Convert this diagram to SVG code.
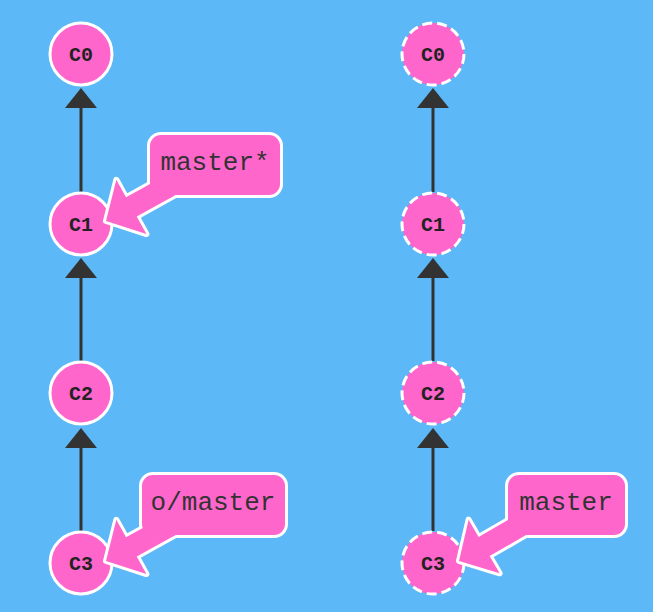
<svg xmlns="http://www.w3.org/2000/svg" width="653" height="612" viewBox="0 0 653 612">
<style>
.bg{fill:#5cb8f6}
.commit{fill:#ff66cc;stroke:#fff;stroke-width:3}
.dashed{stroke-dasharray:10 5}
.clabel{font-family:"Liberation Mono","DejaVu Sans Mono",monospace;font-weight:bold;font-size:20px;fill:#222;text-anchor:middle}
.edge{stroke:#333;stroke-width:3;fill:none}
.head{fill:#333}
.out{fill:none;stroke:#fff;stroke-width:6;stroke-linejoin:round}
.pink{fill:#ff66cc}
.btext{font-family:"Liberation Mono","Courier New",monospace;font-size:26px;fill:#333;text-anchor:middle}
</style>
<defs>
<polygon id="tag" points="0,0 29,-31 29,-11 85,-11 85,11 29,11 29,31"/>
</defs>
<rect class="bg" x="0" y="0" width="653" height="612"/>

<g id="connectors">
<line class="edge" x1="81" y1="108" x2="81" y2="192"/>
<polygon class="head" points="81,88 97,108 65,108"/>
<line class="edge" x1="81" y1="278" x2="81" y2="361"/>
<polygon class="head" points="81,258 97,278 65,278"/>
<line class="edge" x1="81" y1="448" x2="81" y2="531"/>
<polygon class="head" points="81,428 97,448 65,448"/>
<line class="edge" x1="433" y1="108" x2="433" y2="192"/>
<polygon class="head" points="433,88 449,108 417,108"/>
<line class="edge" x1="433" y1="278" x2="433" y2="361"/>
<polygon class="head" points="433,258 449,278 417,278"/>
<line class="edge" x1="433" y1="448" x2="433" y2="531"/>
<polygon class="head" points="433,428 449,448 417,448"/>
</g>

<g id="left-C0"><circle class="commit" cx="81" cy="54" r="31"/><text class="clabel" x="81" y="61">C0</text></g>
<g id="left-C1"><circle class="commit" cx="81" cy="224" r="31"/><text class="clabel" x="81" y="231">C1</text></g>
<g id="left-C2"><circle class="commit" cx="81" cy="393" r="31"/><text class="clabel" x="81" y="400">C2</text></g>
<g id="left-C3"><circle class="commit" cx="81" cy="563" r="31"/><text class="clabel" x="81" y="570">C3</text></g>

<g id="right-C0"><circle class="commit dashed" cx="433" cy="54" r="31"/><text class="clabel" x="433" y="61">C0</text></g>
<g id="right-C1"><circle class="commit dashed" cx="433" cy="224" r="31"/><text class="clabel" x="433" y="231">C1</text></g>
<g id="right-C2"><circle class="commit dashed" cx="433" cy="393" r="31"/><text class="clabel" x="433" y="400">C2</text></g>
<g id="right-C3"><circle class="commit dashed" cx="433" cy="563" r="31"/><text class="clabel" x="433" y="570">C3</text></g>

<g id="label-master-star">
<rect class="out" x="150" y="135" width="130" height="60" rx="11"/>
<use class="out" href="#tag" transform="translate(106,221) rotate(-29)"/>
<rect class="pink" x="150" y="135" width="130" height="60" rx="11"/>
<use class="pink" href="#tag" transform="translate(106,221) rotate(-29)"/>
<text class="btext" x="215" y="170">master*</text>
</g>

<g id="label-o-master">
<rect class="out" x="142" y="475" width="143" height="60" rx="11"/>
<use class="out" href="#tag" transform="translate(106,561) rotate(-29)"/>
<rect class="pink" x="142" y="475" width="143" height="60" rx="11"/>
<use class="pink" href="#tag" transform="translate(106,561) rotate(-29)"/>
<text class="btext" x="213" y="510">o/master</text>
</g>

<g id="label-master">
<rect class="out" x="508" y="475" width="117" height="60" rx="11"/>
<use class="out" href="#tag" transform="translate(459,561) rotate(-30)"/>
<rect class="pink" x="508" y="475" width="117" height="60" rx="11"/>
<use class="pink" href="#tag" transform="translate(459,561) rotate(-30)"/>
<text class="btext" x="566" y="510">master</text>
</g>
</svg>
